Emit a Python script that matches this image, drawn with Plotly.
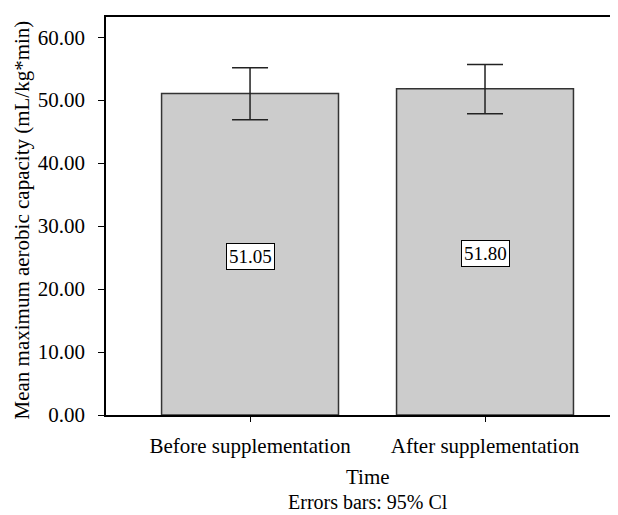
import plotly.graph_objects as go

categories = ["Before supplementation", "After supplementation"]
means = [51.05, 51.80]
ci_upper = [55.13, 55.66]
ci_lower = [46.90, 47.85]
labels = ["51.05", "51.80"]
y_ticks = [0, 10, 20, 30, 40, 50, 60]
y_tick_text = ["0.00", "10.00", "20.00", "30.00", "40.00", "50.00", "60.00"]

FONT = "Liberation Serif"

err_plus = [u - m for u, m in zip(ci_upper, means)]
err_minus = [m - l for m, l in zip(means, ci_lower)]

fig = go.Figure()
fig.add_trace(go.Bar(
    x=[0, 1], y=means,
    width=0.753,
    marker=dict(color="#cccccc", line=dict(color="#333333", width=1.5)),
    error_y=dict(type="data", symmetric=False, array=err_plus, arrayminus=err_minus,
                 color="#222222", thickness=1.5, width=18),
    showlegend=False, hoverinfo="skip",
))

for i, (m, lab) in enumerate(zip(means, labels)):
    fig.add_annotation(x=i, y=m / 2, text=lab, showarrow=False, yshift=-2,
                       font=dict(family=FONT, size=19, color="black"),
                       bgcolor="white", bordercolor="black", borderwidth=1, borderpad=2)

# x-axis title and footnote, centred between the two categories
fig.add_annotation(x=0.5, y=-0.155, yref="paper", yanchor="middle",
                   text="Time", showarrow=False,
                   font=dict(family=FONT, size=21, color="black"))
fig.add_annotation(x=0.5, y=-0.218, yref="paper", yanchor="middle",
                   text="Errors bars: 95% Cl", showarrow=False,
                   font=dict(family=FONT, size=20, color="black"))
# y-axis title
fig.add_annotation(x=-0.165, xref="paper", xanchor="center", y=0.49, yref="paper",
                   yanchor="middle", textangle=-90,
                   text="Mean maximum aerobic capacity (mL/kg*min)", showarrow=False,
                   font=dict(family=FONT, size=21, color="black"))

# page body has an 8px default margin, so the figure is sized 8px smaller
fig.update_layout(
    width=610, height=507,
    margin=dict(l=98, r=0, t=9, b=100, autoexpand=False),
    paper_bgcolor="white", plot_bgcolor="white",
    font=dict(family=FONT, size=21, color="black"),
    xaxis=dict(
        range=[-0.613, 1.566], automargin=False,
        tickmode="array", tickvals=[0, 1], ticktext=categories,
        ticks="outside", ticklen=5, tickcolor="black", tickwidth=1,
        ticklabelstandoff=6,
        showline=True, linecolor="black", linewidth=1.5, mirror=True,
        showgrid=False, zeroline=False,
        tickfont=dict(family=FONT, size=21),
    ),
    yaxis=dict(
        range=[0, 63.2], automargin=False,
        tickmode="array", tickvals=y_ticks, ticktext=y_tick_text,
        ticks="outside", ticklen=6, tickcolor="black", tickwidth=1,
        ticklabelstandoff=9,
        showline=True, linecolor="black", linewidth=1.5, mirror=False,
        showgrid=False, zeroline=False,
        tickfont=dict(family=FONT, size=21),
    ),
)

fig.write_html("out.html")
